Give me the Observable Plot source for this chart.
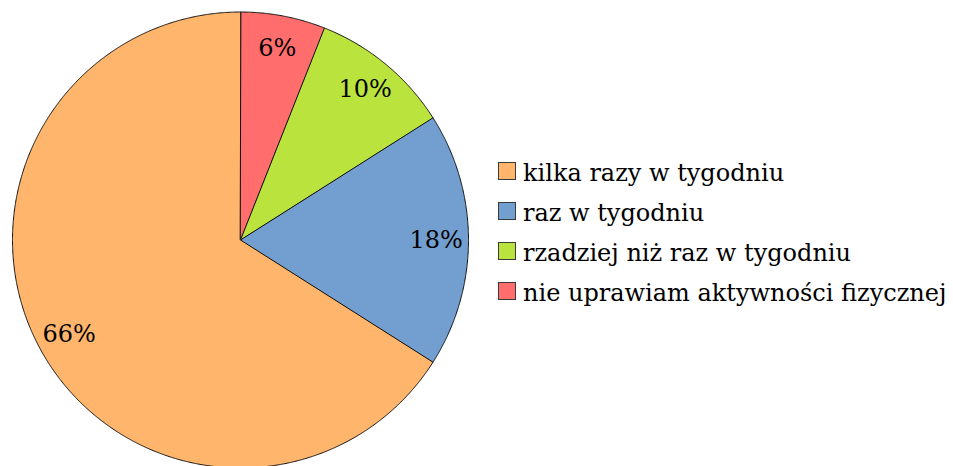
<!DOCTYPE html>
<html><head><meta charset="utf-8">
<script src="https://cdn.jsdelivr.net/npm/d3@7"></script>
<script src="https://cdn.jsdelivr.net/npm/@observablehq/plot@0.6"></script>
<style>
html,body{margin:0;padding:0;overflow:hidden;background:#fff;}
</style></head><body>
<div id="wrap" style="position:relative;width:953px;height:466px;">
<div id="legend" style="position:absolute;left:498px;top:153px;font-family:'DejaVu Serif','Liberation Serif',serif;font-size:24px;line-height:40px;color:#000;white-space:nowrap;"></div>
</div>
<script>
// Legend order (as shown in the reference)
const categories = ["kilka razy w tygodniu","raz w tygodniu","rzadziej niż raz w tygodniu","nie uprawiam aktywności fizycznej"];
const values = [66, 18, 10, 6];
const labels = ["66%", "18%", "10%", "6%"];
const colors = ["#FFB66C", "#729FCF", "#BBE33D", "#FF6D6D"];

// Slices go clockwise from 12 o'clock in reverse legend order
const order = [3, 2, 1, 0];
const pie = d3.pie().sort(null).value(i => values[i])(order);

const pts = [];
const labelData = [];
for (const s of pie) {
  const i = s.data;
  const cat = categories[i];
  pts.push({cat, x: 0, y: 0});
  const n = Math.max(4, Math.ceil((s.endAngle - s.startAngle) / 0.005));
  for (let k = 0; k <= n; k++) {
    const a = s.startAngle + (s.endAngle - s.startAngle) * k / n;
    pts.push({cat, x: Math.sin(a), y: Math.cos(a)});
  }
  const m = (s.startAngle + s.endAngle) / 2;
  const r = 0.858;
  labelData.push({label: labels[i], x: r * Math.sin(m), y: r * Math.cos(m)});
}

const chart = Plot.plot({
  width: 480, height: 466, margin: 0,
  style: {fontFamily: "'DejaVu Serif', 'Liberation Serif', serif", background: "transparent", position: "absolute", left: "0px", top: "0px"},
  x: {domain: [-1, 1], range: [12, 468], axis: null},
  y: {domain: [-1, 1], range: [467.5, 11.5], axis: null},
  color: {domain: categories, range: colors},
  marks: [
    Plot.line(pts, {x: "x", y: "y", z: "cat", fill: "cat", stroke: "#111", strokeWidth: 1, curve: "linear-closed"}),
    Plot.text(labelData, {x: "x", y: "y", text: "label", fontSize: 24, fill: "black"})
  ]
});
document.getElementById("wrap").prepend(chart);

const color = chart.scale("color");
const leg = document.getElementById("legend");
categories.forEach(c => {
  const row = document.createElement("div");
  const sw = document.createElement("span");
  sw.style.cssText = "display:inline-block;width:18px;height:18px;box-sizing:border-box;border:1px solid #3a3a3a;margin-right:7px;vertical-align:1px;";
  sw.style.background = color.apply(c);
  row.appendChild(sw);
  const t = document.createElement("span");
  t.textContent = c;
  row.appendChild(t);
  leg.appendChild(row);
});
</script>
</body></html>
